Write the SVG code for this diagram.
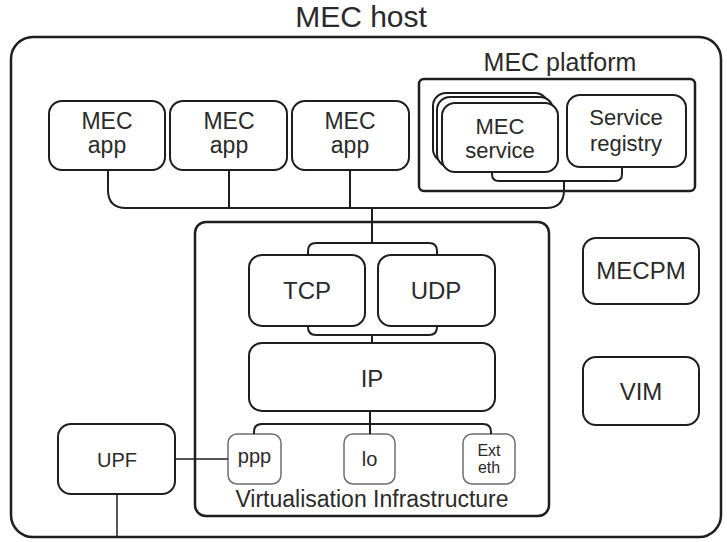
<svg xmlns="http://www.w3.org/2000/svg" width="727" height="542" viewBox="0 0 727 542">
  <style>
    .box { fill: #ffffff; stroke: #1e1e1e; stroke-width: 2; }
    .frame { fill: none; stroke: #1e1e1e; stroke-width: 2.5; }
    .iface { fill: #ffffff; stroke: #6e6e6e; stroke-width: 1.5; }
    .wire { fill: none; stroke: #1e1e1e; stroke-width: 2; }
    text { font-family: "Liberation Sans", Arial, sans-serif; fill: #2a2a2a; text-anchor: middle; }
    .t22 { font-size: 22px; }
    .t23 { font-size: 23px; }
    .t24 { font-size: 24px; }
    .t20 { font-size: 20px; }
  </style>
  <rect width="727" height="542" fill="#ffffff"/>

  <!-- MEC host container -->
  <g id="mec-host">
    <text x="361" y="27" style="font-size:30px">MEC host</text>
    <rect x="11" y="37" width="710" height="500" rx="22" class="frame" stroke-width="2.2"/>
  </g>

  <!-- MEC platform -->
  <g id="mec-platform">
    <text x="560" y="71" style="font-size:25px">MEC platform</text>
    <rect x="419" y="79" width="276" height="112" rx="5" class="frame" stroke-width="3"/>
  </g>

  <g id="mec-service">
    <rect x="433" y="93" width="115" height="69" rx="13" class="box"/>
    <rect x="437" y="97" width="116" height="70" rx="13" class="box"/>
    <rect x="442" y="103" width="116" height="69" rx="13" class="box"/>
    <text x="500" y="134" class="t22">MEC</text>
    <text x="500" y="158" class="t22">service</text>
  </g>

  <g id="service-registry">
    <rect x="567" y="95" width="119" height="72" rx="13" class="box"/>
    <text x="626" y="125" class="t22">Service</text>
    <text x="626" y="151" class="t22">registry</text>
  </g>

  <!-- MEC applications -->
  <g id="mec-app-1">
    <rect x="49" y="101" width="116" height="69" rx="13" class="box"/>
    <text x="107" y="129" class="t23">MEC</text>
    <text x="107" y="153" class="t23">app</text>
  </g>
  <g id="mec-app-2">
    <rect x="170" y="101" width="117" height="69" rx="13" class="box"/>
    <text x="229" y="129" class="t23">MEC</text>
    <text x="229" y="153" class="t23">app</text>
  </g>
  <g id="mec-app-3">
    <rect x="292" y="101" width="117" height="69" rx="13" class="box"/>
    <text x="350" y="129" class="t23">MEC</text>
    <text x="350" y="153" class="t23">app</text>
  </g>

  <!-- Virtualisation infrastructure -->
  <g id="virtualisation-infrastructure">
    <rect x="195" y="222" width="354" height="294" rx="11" class="frame"/>
    <text x="372" y="507" class="t23">Virtualisation Infrastructure</text>
  </g>

  <g id="tcp">
    <rect x="249" y="255" width="116" height="71" rx="13" class="box"/>
    <text x="307" y="299" class="t24">TCP</text>
  </g>
  <g id="udp">
    <rect x="378" y="255" width="117" height="71" rx="13" class="box"/>
    <text x="436" y="299" class="t24">UDP</text>
  </g>
  <g id="ip">
    <rect x="249" y="343" width="246" height="68" rx="13" class="box"/>
    <text x="372" y="387" class="t24">IP</text>
  </g>

  <g id="ppp">
    <rect x="228" y="434" width="53" height="50" rx="9" class="iface"/>
    <text x="254.5" y="463" class="t20">ppp</text>
  </g>
  <g id="lo">
    <rect x="344" y="434" width="51" height="50" rx="9" class="iface"/>
    <text x="369.5" y="466" class="t20">lo</text>
  </g>
  <g id="ext-eth">
    <rect x="463" y="434" width="52" height="50" rx="9" class="iface"/>
    <text x="489" y="456" style="font-size:16px">Ext</text>
    <text x="489" y="473" style="font-size:16px">eth</text>
  </g>

  <!-- Management components -->
  <g id="mecpm">
    <rect x="583" y="238" width="116" height="66" rx="13" class="box"/>
    <text x="641" y="279" class="t24">MECPM</text>
  </g>
  <g id="vim">
    <rect x="583" y="357" width="116" height="68" rx="13" class="box"/>
    <text x="641" y="400" class="t24">VIM</text>
  </g>

  <g id="upf">
    <rect x="58" y="424" width="117" height="70" rx="13" class="box"/>
    <text x="117" y="467" class="t20">UPF</text>
  </g>

  <!-- Connectors -->
  <g id="connectors" class="wire">
    <path d="M492 172 V174 Q492 181 499 181 H615 Q622 181 622 174 V167"/>
    <path d="M564 181 V190 Q564 208 546 208 H126 Q108 208 108 190 V170"/>
    <path d="M229 170 V208"/>
    <path d="M350 170 V208"/>
    <path d="M372 208 V243"/>
    <path d="M308 255 V251 Q308 243 316 243 H429 Q437 243 437 251 V255"/>
    <path d="M308 326 V327 Q308 335 316 335 H429 Q437 335 437 327 V326"/>
    <path d="M372 335 V343"/>
    <path d="M370 411 V434"/>
    <path d="M254 434 V432 Q254 424 262 424 H483 Q491 424 491 432 V434"/>
    <path d="M175 459 H228" stroke-width="1.5"/>
    <path d="M117 494 V537" stroke-width="1.5"/>
  </g>
</svg>
